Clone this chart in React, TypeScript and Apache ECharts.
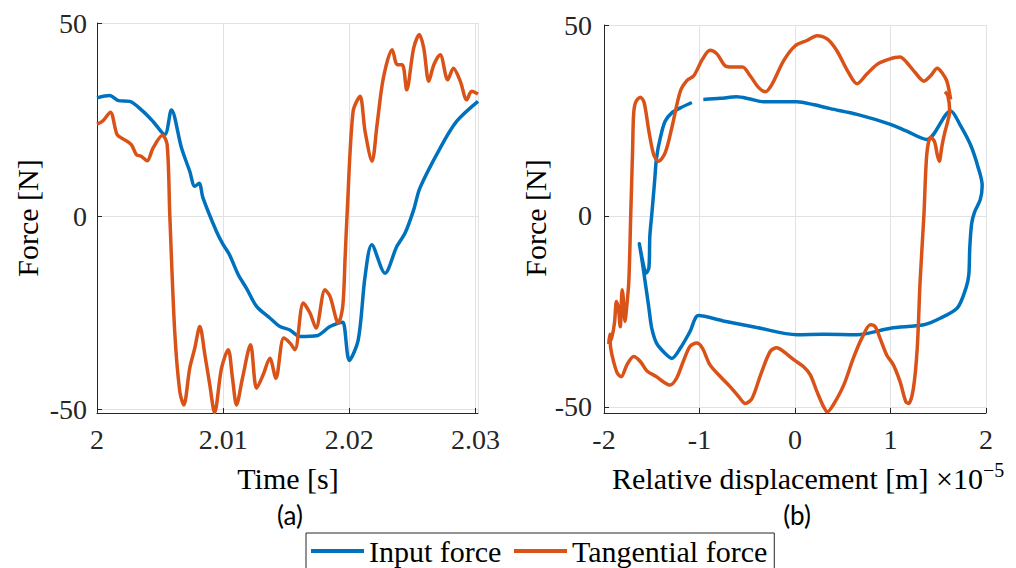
import React, { useEffect, useRef } from "react";
import * as echarts from "echarts";

// ---------- (a) time histories ----------
const inputTime = [2.0, 2.001, 2.0017, 2.0026, 2.00365, 2.00444, 2.00537, 2.0059, 2.0067, 2.00735, 2.00775, 2.0081, 2.0084, 2.00947, 2.01, 2.0105, 2.0112, 2.01185, 2.01265, 2.0137, 2.0145, 2.01529, 2.01608, 2.01741, 2.01847, 2.01926, 2.0195, 2.02, 2.02071, 2.02125, 2.02178, 2.02283, 2.02376, 2.02442, 2.0251, 2.0256, 2.0272, 2.0285, 2.0302];
const inputForce = [30.6, 31.2, 29.9, 29.7, 27.1, 24.5, 21.1, 27.5, 17.6, 11.6, 7.7, 8.5, 4.7, -4.0, -7.4, -10.0, -15.2, -18.7, -23.4, -26.4, -28.6, -29.5, -31.2, -31.0, -28.6, -27.6, -27.5, -37.4, -32.0, -15.6, -7.4, -14.8, -7.9, -4.4, 1.6, 7.3, 17.6, 24.5, 29.7];

const tangTime = [2.0, 2.00048, 2.00106, 2.00159, 2.00206, 2.00272, 2.00312, 2.0035, 2.00397, 2.00444, 2.00519, 2.00556, 2.00577, 2.00616, 2.00656, 2.00688, 2.00735, 2.00775, 2.00815, 2.00855, 2.00894, 2.00932, 2.00987, 2.0104, 2.01074, 2.01106, 2.01153, 2.01217, 2.01265, 2.01317, 2.0137, 2.01418, 2.0148, 2.0153, 2.01569, 2.01635, 2.01688, 2.01736, 2.01807, 2.01847, 2.01913, 2.01948, 2.01966, 2.01984, 2.0203, 2.02085, 2.02125, 2.0218, 2.0222, 2.0227, 2.0234, 2.0238, 2.0242, 2.02455, 2.0251, 2.02555, 2.0259, 2.0263, 2.0267, 2.0272, 2.0278, 2.02825, 2.0288, 2.0293, 2.0297, 2.0302];
const tangForce = [23.8, 24.7, 26.9, 21.1, 20.0, 18.5, 15.9, 15.5, 14.3, 17.6, 20.9, 18.5, 0.3, -29.9, -45.4, -48.9, -39.4, -34.2, -28.6, -35.9, -43.7, -50.9, -39.4, -34.6, -42.0, -48.9, -42.0, -33.3, -44.6, -41.1, -36.8, -42.0, -31.6, -32.9, -34.6, -22.5, -25.1, -29.0, -19.1, -20.8, -27.7, -23.4, -11.3, 1.6, 27.1, 31.0, 21.9, 14.2, 23.7, 35.8, 43.1, 39.2, 39.2, 32.7, 43.5, 47.0, 43.5, 34.9, 39.2, 41.8, 35.3, 38.3, 34.9, 30.1, 32.3, 31.6];

// ---------- (b) force vs relative displacement (x in 1e-5 m) ----------
const loopInputDisp = [-0.96, -0.78, -0.61, -0.47, -0.33, -0.15, 0.02, 0.2, 0.37, 0.65, 1.0, 1.17, 1.38, 1.63, 1.73, 1.84, 1.92, 1.96, 1.94, 1.88, 1.85, 1.83, 1.82, 1.79, 1.7, 1.52, 1.35, 1.0, 0.65, 0.3, 0.02, -0.4, -0.75, -1.01, -1.1, -1.2, -1.29, -1.36, -1.45, -1.5, -1.53, -1.57, -1.6, -1.63, -1.58, -1.56, -1.53, -1.52, -1.5, -1.47, -1.45, -1.41, -1.36, -1.29, -1.2, -1.08];
const loopInputForce = [30.5, 30.8, 31.2, 30.6, 29.9, 29.9, 29.9, 29.1, 28.1, 26.6, 24.0, 22.2, 20.0, 27.5, 23.8, 18.5, 12.5, 8.0, 4.3, 1.0, -2.0, -8.4, -15.4, -18.9, -24.1, -26.8, -28.5, -29.4, -31.1, -31.0, -31.1, -29.2, -27.5, -26.1, -30.3, -34.6, -37.3, -36.0, -33.3, -29.4, -24.1, -17.1, -11.9, -7.3, -13.6, -15.0, -13.6, -5.3, 0.3, 9.1, 15.2, 20.5, 24.8, 27.0, 28.3, 29.7];

const loopTangDisp = [1.63, 1.59, 1.54, 1.49, 1.42, 1.35, 1.26, 1.17, 1.1, 0.98, 0.86, 0.75, 0.65, 0.55, 0.44, 0.34, 0.23, 0.13, 0.0, -0.12, -0.24, -0.31, -0.38, -0.47, -0.55, -0.66, -0.73, -0.82, -0.89, -0.97, -1.06, -1.13, -1.2, -1.29, -1.36, -1.43, -1.48, -1.53, -1.58, -1.62, -1.67, -1.69, -1.7, -1.72, -1.74, -1.765, -1.78, -1.8, -1.81, -1.83, -1.85, -1.87, -1.89, -1.92, -1.95, -1.94, -1.93, -1.9, -1.86, -1.82, -1.76, -1.69, -1.62, -1.55, -1.45, -1.38, -1.31, -1.24, -1.17, -1.1, -1.03, -0.97, -0.89, -0.78, -0.68, -0.59, -0.52, -0.45, -0.36, -0.26, -0.19, -0.12, -0.01, 0.09, 0.16, 0.23, 0.3, 0.34, 0.4, 0.51, 0.61, 0.7, 0.79, 0.84, 0.89, 0.96, 1.03, 1.1, 1.16, 1.19, 1.24, 1.28, 1.31, 1.35, 1.38, 1.42, 1.46, 1.49, 1.51, 1.54, 1.57, 1.6, 1.62, 1.6, 1.57];
const loopTangForce = [30.5, 35.3, 37.5, 38.7, 36.7, 35.3, 37.5, 40.2, 41.6, 41.0, 39.7, 37.1, 34.6, 38.0, 43.2, 46.3, 47.2, 46.0, 44.5, 40.6, 34.5, 32.5, 33.6, 36.7, 39.0, 39.0, 39.3, 42.5, 43.4, 41.0, 36.7, 35.5, 32.7, 23.1, 16.5, 14.3, 16.1, 22.2, 29.7, 31.1, 29.7, 26.6, 17.8, 0.3, -17.1, -24.5, -27.6, -21.0, -19.3, -29.0, -24.0, -22.4, -28.0, -32.0, -33.5, -31.0, -34.6, -38.1, -41.2, -42.1, -39.0, -36.8, -38.1, -40.6, -42.1, -43.4, -44.3, -42.5, -38.1, -34.2, -33.3, -34.6, -39.0, -42.1, -44.7, -47.3, -49.1, -47.8, -41.6, -35.5, -34.5, -35.5, -37.7, -39.5, -41.6, -46.0, -50.0, -51.3, -49.5, -44.3, -37.3, -32.0, -28.5, -29.0, -32.0, -36.4, -39.0, -43.4, -48.6, -49.1, -45.1, -34.6, -17.1, 0.3, 16.1, 20.6, 19.5, 16.0, 14.3, 18.5, 22.0, 24.8, 27.5, 31.5, 32.5];

const seriesNames = ["Input force", "Tangential force"];
const BLUE = "#0072BD";
const ORANGE = "#D95319";
const AX = "#262626";
const GRID = "#e2e2e2";
const SERIF = "'Liberation Serif', 'Times New Roman', serif";

const zip = (a: number[], b: number[]) => a.map((v, i) => [v, b[i]]);

function baseAxis(extra: any) {
  return {
    type: "value",
    axisLine: { show: true, onZero: false, lineStyle: { color: AX, width: 1 } },
    axisTick: { show: true, inside: true, length: 5, lineStyle: { color: AX, width: 1 } },
    axisLabel: { color: AX, fontFamily: SERIF, fontSize: 27 },
    splitLine: { show: true, lineStyle: { color: GRID, width: 1 } },
    ...extra,
  };
}

const centered = { textAlign: "center", textVerticalAlign: "middle", align: "center", verticalAlign: "middle" };

export default function App() {
  const ref = useRef<HTMLDivElement>(null);
  useEffect(() => {
    if (!ref.current) return;
    const chart = echarts.init(ref.current, null, { renderer: "svg" });
    const lineStyle = (c: string) => ({ color: c, width: 3.5 });
    chart.setOption({
      animation: false,
      backgroundColor: "#ffffff",
      grid: [
        { left: 97, top: 23, width: 381, height: 390 },
        { left: 604, top: 25, width: 382, height: 388 },
      ],
      xAxis: [
        baseAxis({
          gridIndex: 0, min: 2, max: 2.0302, minInterval: 0.01, maxInterval: 0.01,
          axisLabel: { color: AX, fontFamily: SERIF, fontSize: 28, margin: 12, showMaxLabel: false },
        }),
        baseAxis({
          gridIndex: 1, min: -2, max: 2, interval: 1,
          axisLabel: { color: AX, fontFamily: SERIF, fontSize: 28, margin: 12 },
        }),
      ],
      yAxis: [
        baseAxis({
          gridIndex: 0, min: -51, max: 50, minInterval: 50, maxInterval: 50,
          axisLabel: { color: AX, fontFamily: SERIF, fontSize: 28, margin: 10, showMinLabel: false },
        }),
        baseAxis({
          gridIndex: 1, min: -51.6, max: 50, minInterval: 50, maxInterval: 50,
          axisLabel: { color: AX, fontFamily: SERIF, fontSize: 28, margin: 12, showMinLabel: false },
        }),
      ],
      legend: {
        data: seriesNames,
        left: 306,
        top: 533,
        padding: [3, 7, 8, 5],
        itemGap: 11,
        itemWidth: 53,
        itemHeight: 4,
        icon: "rect",
        borderColor: AX,
        borderWidth: 1,
        backgroundColor: "#ffffff",
        formatter: (n: string) => (n === seriesNames[0] ? "{a|" + n + "}" : "{b|" + n + "}"),
        textStyle: {
          color: "#000",
          fontFamily: SERIF,
          fontSize: 30,
          lineHeight: 30,
          rich: {
            a: { width: 134, fontFamily: SERIF, fontSize: 30, color: "#000" },
            b: { width: 195, fontFamily: SERIF, fontSize: 30, color: "#000" },
          },
        },
      },
      series: [
        { name: seriesNames[0], type: "line", xAxisIndex: 0, yAxisIndex: 0, data: zip(inputTime, inputForce), showSymbol: false, smooth: 0.3, lineStyle: lineStyle(BLUE), itemStyle: { color: BLUE } },
        { name: seriesNames[1], type: "line", xAxisIndex: 0, yAxisIndex: 0, data: zip(tangTime, tangForce), showSymbol: false, smooth: 0.3, lineStyle: lineStyle(ORANGE), itemStyle: { color: ORANGE } },
        { name: seriesNames[0], type: "line", xAxisIndex: 1, yAxisIndex: 1, data: zip(loopInputDisp, loopInputForce), showSymbol: false, smooth: 0.3, lineStyle: lineStyle(BLUE), itemStyle: { color: BLUE } },
        { name: seriesNames[1], type: "line", xAxisIndex: 1, yAxisIndex: 1, data: zip(loopTangDisp, loopTangForce), showSymbol: false, smooth: 0.3, lineStyle: lineStyle(ORANGE), itemStyle: { color: ORANGE } },
      ],
      graphic: [
        { type: "text", x: 288, y: 478, style: { text: "Time [s]", font: "30px " + SERIF, fill: "#000", ...centered } },
        { type: "text", x: 290, y: 515, style: { text: "(a)", font: "26px Lato, 'Open Sans', sans-serif", fill: "#000", ...centered } },
        { type: "text", x: 27, y: 218, rotation: Math.PI / 2, style: { text: "Force [N]", font: "30px " + SERIF, fill: "#000", ...centered } },
        { type: "text", x: 535, y: 218, rotation: Math.PI / 2, style: { text: "Force [N]", font: "30px " + SERIF, fill: "#000", ...centered } },
        {
          type: "text", x: 612, y: 478,
          style: {
            text: "{m|Relative displacement [m] ×10}{s|−5}",
            rich: {
              m: { fontFamily: SERIF, fontSize: 30, fill: "#000", color: "#000" },
              s: { fontFamily: SERIF, fontSize: 20, fill: "#000", color: "#000", padding: [0, 0, 17, 0] },
            },
            fill: "#000", textAlign: "left", textVerticalAlign: "middle", align: "left", verticalAlign: "middle",
          },
        },
        { type: "text", x: 797, y: 515, style: { text: "(b)", font: "26px Lato, 'Open Sans', sans-serif", fill: "#000", ...centered } },
      ],
    });
    return () => chart.dispose();
  }, []);
  return <div ref={ref} style={{ position: "absolute", left: 0, top: 0, width: 1016, height: 568 }} />;
}
